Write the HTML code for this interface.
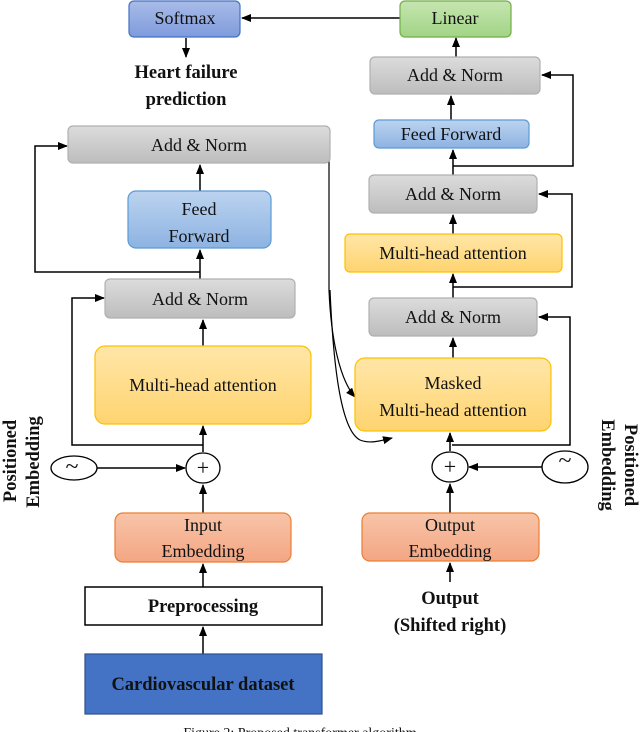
<!DOCTYPE html>
<html><head><meta charset="utf-8"><style>
html,body{margin:0;padding:0;background:#fff;}
svg{display:block;}
text{font-family:"Liberation Serif",serif;fill:#111;}
</style></head><body>
<svg width="640" height="732" viewBox="0 0 640 732" xmlns="http://www.w3.org/2000/svg">
<defs>
<marker id="a" markerWidth="10" markerHeight="10" refX="9" refY="5" orient="auto" markerUnits="userSpaceOnUse"><path d="M0,1 L10,5 L0,9 Z" fill="#000"/></marker>
<linearGradient id="gy" x1="0" y1="0" x2="0" y2="1"><stop offset="0" stop-color="#dcdcdc"/><stop offset="1" stop-color="#bdbdbd"/></linearGradient>
<linearGradient id="gb" x1="0" y1="0" x2="0" y2="1"><stop offset="0" stop-color="#bcd3ef"/><stop offset="1" stop-color="#8db3e2"/></linearGradient>
<linearGradient id="go" x1="0" y1="0" x2="0" y2="1"><stop offset="0" stop-color="#ffe6a8"/><stop offset="1" stop-color="#ffd470"/></linearGradient>
<linearGradient id="gr" x1="0" y1="0" x2="0" y2="1"><stop offset="0" stop-color="#f8c4a8"/><stop offset="1" stop-color="#f3a683"/></linearGradient>
<linearGradient id="gs" x1="0" y1="0" x2="0" y2="1"><stop offset="0" stop-color="#a9bce8"/><stop offset="1" stop-color="#7f9bdc"/></linearGradient>
<linearGradient id="gg" x1="0" y1="0" x2="0" y2="1"><stop offset="0" stop-color="#c5e5b0"/><stop offset="1" stop-color="#a2d486"/></linearGradient>
</defs>
<g stroke="#000" stroke-width="1.5" fill="none">
<!-- top -->
<line x1="400" y1="18" x2="242" y2="18" marker-end="url(#a)"/>
<line x1="186" y1="38" x2="186" y2="57" marker-end="url(#a)"/>
<line x1="456" y1="57" x2="456" y2="38" marker-end="url(#a)"/>
<!-- left column -->
<line x1="203" y1="654" x2="203" y2="627" marker-end="url(#a)"/>
<line x1="203" y1="587" x2="203" y2="564" marker-end="url(#a)"/>
<line x1="203" y1="513" x2="203" y2="485" marker-end="url(#a)"/>
<line x1="97" y1="468" x2="185" y2="468" marker-end="url(#a)"/>
<line x1="203" y1="452" x2="203" y2="426" marker-end="url(#a)"/>
<line x1="203" y1="346" x2="203" y2="320" marker-end="url(#a)"/>
<line x1="200" y1="279" x2="200" y2="250" marker-end="url(#a)"/>
<line x1="200" y1="191" x2="200" y2="165" marker-end="url(#a)"/>
<polyline points="203,445 72,445 72,298 104,298" marker-end="url(#a)"/>
<polyline points="200,272 35,272 35,146 67,146" marker-end="url(#a)"/>
<!-- right column -->
<line x1="450" y1="582" x2="450" y2="563" marker-end="url(#a)"/>
<line x1="450" y1="513" x2="450" y2="484" marker-end="url(#a)"/>
<line x1="542" y1="467" x2="469" y2="467" marker-end="url(#a)"/>
<line x1="450" y1="451" x2="450" y2="433" marker-end="url(#a)"/>
<line x1="453" y1="358" x2="453" y2="338" marker-end="url(#a)"/>
<line x1="453" y1="298" x2="453" y2="274" marker-end="url(#a)"/>
<line x1="453" y1="234" x2="453" y2="215" marker-end="url(#a)"/>
<line x1="453" y1="175" x2="453" y2="150" marker-end="url(#a)"/>
<line x1="451" y1="120" x2="451" y2="96" marker-end="url(#a)"/>
<polyline points="452,445 570,445 570,317 539,317" marker-end="url(#a)"/>
<polyline points="453,287 572,287 572,194 539,194" marker-end="url(#a)"/>
<polyline points="453,166 573,166 573,75 542,75" marker-end="url(#a)"/>
<!-- curves -->
<path d="M329,146 L329,290 C331,340 340,380 355,397" marker-end="url(#a)" stroke-width="1.2"/>
<path d="M330,290 C333,360 340,430 360,440 C370,444 380,441 392,438" marker-end="url(#a)" stroke-width="1.2"/>
</g>
<!-- boxes -->
<g stroke-width="1.2">
<rect x="129" y="1" width="111" height="36" rx="5" fill="url(#gs)" stroke="#4472c4"/>
<rect x="400" y="1" width="111" height="36" rx="5" fill="url(#gg)" stroke="#70ad47"/>
<rect x="68" y="126" width="262" height="37" rx="5" fill="url(#gy)" stroke="#b0b0b0"/>
<rect x="128" y="191" width="143" height="57" rx="8" fill="url(#gb)" stroke="#5b9bd5"/>
<rect x="105" y="279" width="190" height="39" rx="5" fill="url(#gy)" stroke="#b0b0b0"/>
<rect x="95" y="346" width="216" height="78" rx="10" fill="url(#go)" stroke="#ffc000"/>
<rect x="115" y="513" width="176" height="49" rx="8" fill="url(#gr)" stroke="#ed7d31"/>
<rect x="85" y="587" width="237" height="38" fill="#fff" stroke="#000" stroke-width="1.5"/>
<rect x="85" y="654" width="237" height="60" fill="#4472c4" stroke="#2f528f"/>
<rect x="370" y="57" width="170" height="37" rx="5" fill="url(#gy)" stroke="#b0b0b0"/>
<rect x="374" y="120" width="155" height="28" rx="5" fill="url(#gb)" stroke="#5b9bd5"/>
<rect x="369" y="175" width="168" height="38" rx="5" fill="url(#gy)" stroke="#b0b0b0"/>
<rect x="345" y="234" width="217" height="38" rx="5" fill="url(#go)" stroke="#ffc000"/>
<rect x="369" y="298" width="168" height="38" rx="5" fill="url(#gy)" stroke="#b0b0b0"/>
<rect x="355" y="358" width="196" height="73" rx="10" fill="url(#go)" stroke="#ffc000"/>
<rect x="362" y="513" width="177" height="48" rx="8" fill="url(#gr)" stroke="#ed7d31"/>
</g>
<g stroke="#000" stroke-width="1.3" fill="#fff">
<ellipse cx="74" cy="468" rx="23" ry="12"/>
<ellipse cx="203" cy="468" rx="17" ry="15"/>
<ellipse cx="450" cy="467" rx="18" ry="15"/>
<ellipse cx="565" cy="467" rx="23" ry="16"/>
</g>
<g font-size="18" text-anchor="middle">
<text x="72" y="474" font-size="24">~</text>
<text x="565" y="468" font-size="24">~</text>
<text x="203" y="475" font-size="22">+</text>
<text x="450" y="474" font-size="22">+</text>
<text x="185" y="24">Softmax</text>
<text x="455" y="24">Linear</text>
<text x="199" y="151">Add &amp; Norm</text>
<text x="199" y="215">Feed</text>
<text x="199" y="242">Forward</text>
<text x="200" y="305">Add &amp; Norm</text>
<text x="203" y="391">Multi-head  attention</text>
<text x="203" y="531">Input</text>
<text x="203" y="557">Embedding</text>
<text x="455" y="81">Add &amp; Norm</text>
<text x="451" y="140">Feed Forward</text>
<text x="453" y="200">Add &amp; Norm</text>
<text x="453" y="259">Multi-head  attention</text>
<text x="453" y="323">Add &amp; Norm</text>
<text x="453" y="389">Masked</text>
<text x="453" y="416">Multi-head  attention</text>
<text x="450" y="531">Output</text>
<text x="450" y="557">Embedding</text>
</g>
<g font-size="18.5" font-weight="bold" text-anchor="middle">
<text x="186" y="78">Heart failure</text>
<text x="186" y="105">prediction</text>
<text x="203" y="612">Preprocessing</text>
<text x="203" y="690" fill="#111">Cardiovascular  dataset</text>
<text x="450" y="604">Output</text>
<text x="450" y="631">(Shifted right)</text>
<text transform="translate(16,461) rotate(-90)">Positioned</text>
<text transform="translate(39,462) rotate(-90)">Embedding</text>
<text transform="translate(625,465) rotate(90)">Positioned</text>
<text transform="translate(602,465) rotate(90)">Embedding</text>
</g>
<text x="300" y="737" font-size="14" text-anchor="middle" fill="#333">Figure 2: Proposed transformer algorithm</text>
</svg>
</body></html>
